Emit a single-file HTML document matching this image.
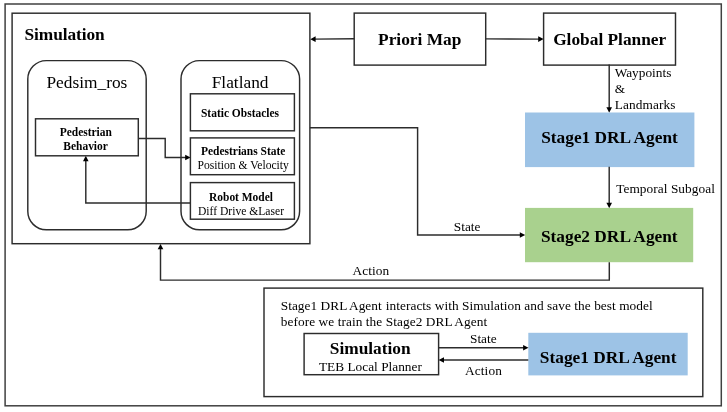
<!DOCTYPE html>
<html>
<head>
<meta charset="utf-8">
<title>Architecture</title>
<style>
html,body{margin:0;padding:0;background:#fff;}
body{width:727px;height:412px;overflow:hidden;}
svg{display:block;will-change:transform;}
text{font-family:"Liberation Serif","Times New Roman",serif;fill:#000;}
.b{font-weight:bold;}
.h{font-size:17.33px;}
.s{font-size:11.6px;}
.s.b{font-size:11.48px;}
.l{font-size:13.33px;}
.ln{fill:none;stroke:#2c2c2c;stroke-width:1.45;}
.bx{fill:#fff;stroke:#2c2c2c;stroke-width:1.45;}
.ar{fill:#000;stroke:none;}
</style>
</head>
<body>
<svg width="727" height="412" viewBox="0 0 727 412">
<rect x="0" y="0" width="727" height="412" fill="#fff"/>
<!-- outer frame -->
<rect x="5.1" y="4" width="716.2" height="401.8" fill="none" stroke="#404040" stroke-width="1.5"/>
<!-- simulation container -->
<rect class="bx" x="12.1" y="13.2" width="297.8" height="230.5"/>
<text class="b h" x="24.5" y="39.8" textLength="80.2">Simulation</text>
<!-- pedsim -->
<rect class="bx" x="27.8" y="60.6" width="118.4" height="169.2" rx="18.5" ry="18.5"/>
<text class="h" x="86.9" y="88.2" text-anchor="middle">Pedsim_ros</text>
<!-- flatland -->
<rect class="bx" x="181" y="60.6" width="118.6" height="169.2" rx="18.5" ry="18.5"/>
<text class="h" x="240.1" y="88.3" text-anchor="middle">Flatland</text>
<!-- connectors inside simulation -->
<polyline class="ln" points="138.3,138.5 165.2,138.5 165.2,157.5 186,157.5"/>
<polygon class="ar" points="190.6,157.5 185.2,154.7 185.2,160.3"/>
<polyline class="ln" points="190.4,203 85.8,203 85.8,160"/>
<polygon class="ar" points="85.8,155.8 83,161.2 88.6,161.2"/>
<!-- inner boxes -->
<rect class="bx" x="35.5" y="118.8" width="102.8" height="37"/>
<text class="b s" x="85.8" y="135.7" text-anchor="middle">Pedestrian</text>
<text class="b s" x="85.6" y="149.7" text-anchor="middle">Behavior</text>
<rect class="bx" x="190.4" y="93.8" width="104" height="37"/>
<text class="b s" x="240" y="116.9" text-anchor="middle">Static Obstacles</text>
<rect class="bx" x="190.4" y="137.9" width="104" height="36.8"/>
<text class="b s" x="243.2" y="155.2" text-anchor="middle">Pedestrians State</text>
<text class="s" x="243.2" y="168.9" text-anchor="middle">Position &amp; Velocity</text>
<rect class="bx" x="190.4" y="182.6" width="104" height="36.6"/>
<text class="b s" x="241" y="201.2" text-anchor="middle">Robot Model</text>
<text class="s" x="241" y="214.6" text-anchor="middle">Diff Drive &amp;Laser</text>
<!-- priori map -->
<rect class="bx" x="354.2" y="13.1" width="131.5" height="52"/>
<text class="b h" x="419.7" y="45.4" text-anchor="middle">Priori Map</text>
<line class="ln" x1="354.2" y1="38.7" x2="314" y2="39.1"/>
<polygon class="ar" points="310.3,39.2 315.6,36.3 315.6,42"/>
<line class="ln" x1="485.7" y1="38.9" x2="539" y2="39.1"/>
<polygon class="ar" points="543.6,39.1 538.2,36.3 538.2,41.9"/>
<!-- global planner -->
<rect class="bx" x="543.6" y="13.1" width="131.9" height="52"/>
<text class="b h" x="609.7" y="45.1" text-anchor="middle">Global Planner</text>
<line class="ln" x1="609.2" y1="64.6" x2="609.2" y2="108"/>
<polygon class="ar" points="609.2,112.7 606.4,107.3 612,107.3"/>
<text class="l" x="614.7" y="76.6">Waypoints</text>
<text class="l" x="614.7" y="92.9">&amp;</text>
<text class="l" x="614.7" y="108.8" textLength="60.7">Landmarks</text>
<!-- stage1 -->
<rect x="525" y="112.5" width="169.4" height="54.6" fill="#9dc3e6"/>
<text class="b h" x="609.5" y="143" text-anchor="middle">Stage1 DRL Agent</text>
<line class="ln" x1="609.2" y1="166.8" x2="609.2" y2="204"/>
<polygon class="ar" points="609.2,208.2 606.4,202.8 612,202.8"/>
<text class="l" x="616.2" y="193" textLength="98.7">Temporal Subgoal</text>
<!-- stage2 -->
<rect x="525" y="207.9" width="168.2" height="54.3" fill="#a9d18e"/>
<text class="b h" x="609.3" y="242" text-anchor="middle">Stage2 DRL Agent</text>
<!-- state line -->
<polyline class="ln" points="309.9,127.8 417.6,127.8 417.6,235 520,235"/>
<polygon class="ar" points="525.2,235 519.8,232.2 519.8,237.8"/>
<text class="l" x="453.8" y="230.8">State</text>
<!-- action line -->
<polyline class="ln" points="609.3,262.2 609.3,280.1 160.5,280.1 160.5,248"/>
<polygon class="ar" points="160.5,243.9 157.7,249.3 163.3,249.3"/>
<text class="l" x="352.4" y="274.7" textLength="36.8">Action</text>
<!-- bottom box -->
<rect class="bx" x="264" y="288.1" width="438.8" height="108.5"/>
<text class="l" x="280.7" y="310.3" style="letter-spacing:0.047px">Stage1 DRL<tspan dx="-0.6"> Agent</tspan><tspan dx="0.6"> interacts with Simulation and save the best model</tspan></text>
<text class="l" x="280.7" y="326.2" style="letter-spacing:0.07px">before we train the Stage2 DRL<tspan dx="-0.6"> Agent</tspan></text>
<rect class="bx" x="304.1" y="333.5" width="134.5" height="41.2"/>
<text class="b h" x="370.2" y="353.6" text-anchor="middle">Simulation</text>
<text class="l" x="370.4" y="370.8" text-anchor="middle">TEB Local Planner</text>
<rect x="528.3" y="332.8" width="159.4" height="42.6" fill="#9dc3e6"/>
<text class="b h" x="608.2" y="362.5" text-anchor="middle">Stage1 DRL Agent</text>
<line class="ln" x1="438.6" y1="347.7" x2="524" y2="347.7"/>
<polygon class="ar" points="528.5,347.7 523.1,344.9 523.1,350.5"/>
<line class="ln" x1="528.3" y1="360" x2="443" y2="360"/>
<polygon class="ar" points="438.6,360 444,357.2 444,362.8"/>
<text class="l" x="470" y="343">State</text>
<text class="l" x="464.9" y="375.2" textLength="37">Action</text>
</svg>
</body>
</html>
